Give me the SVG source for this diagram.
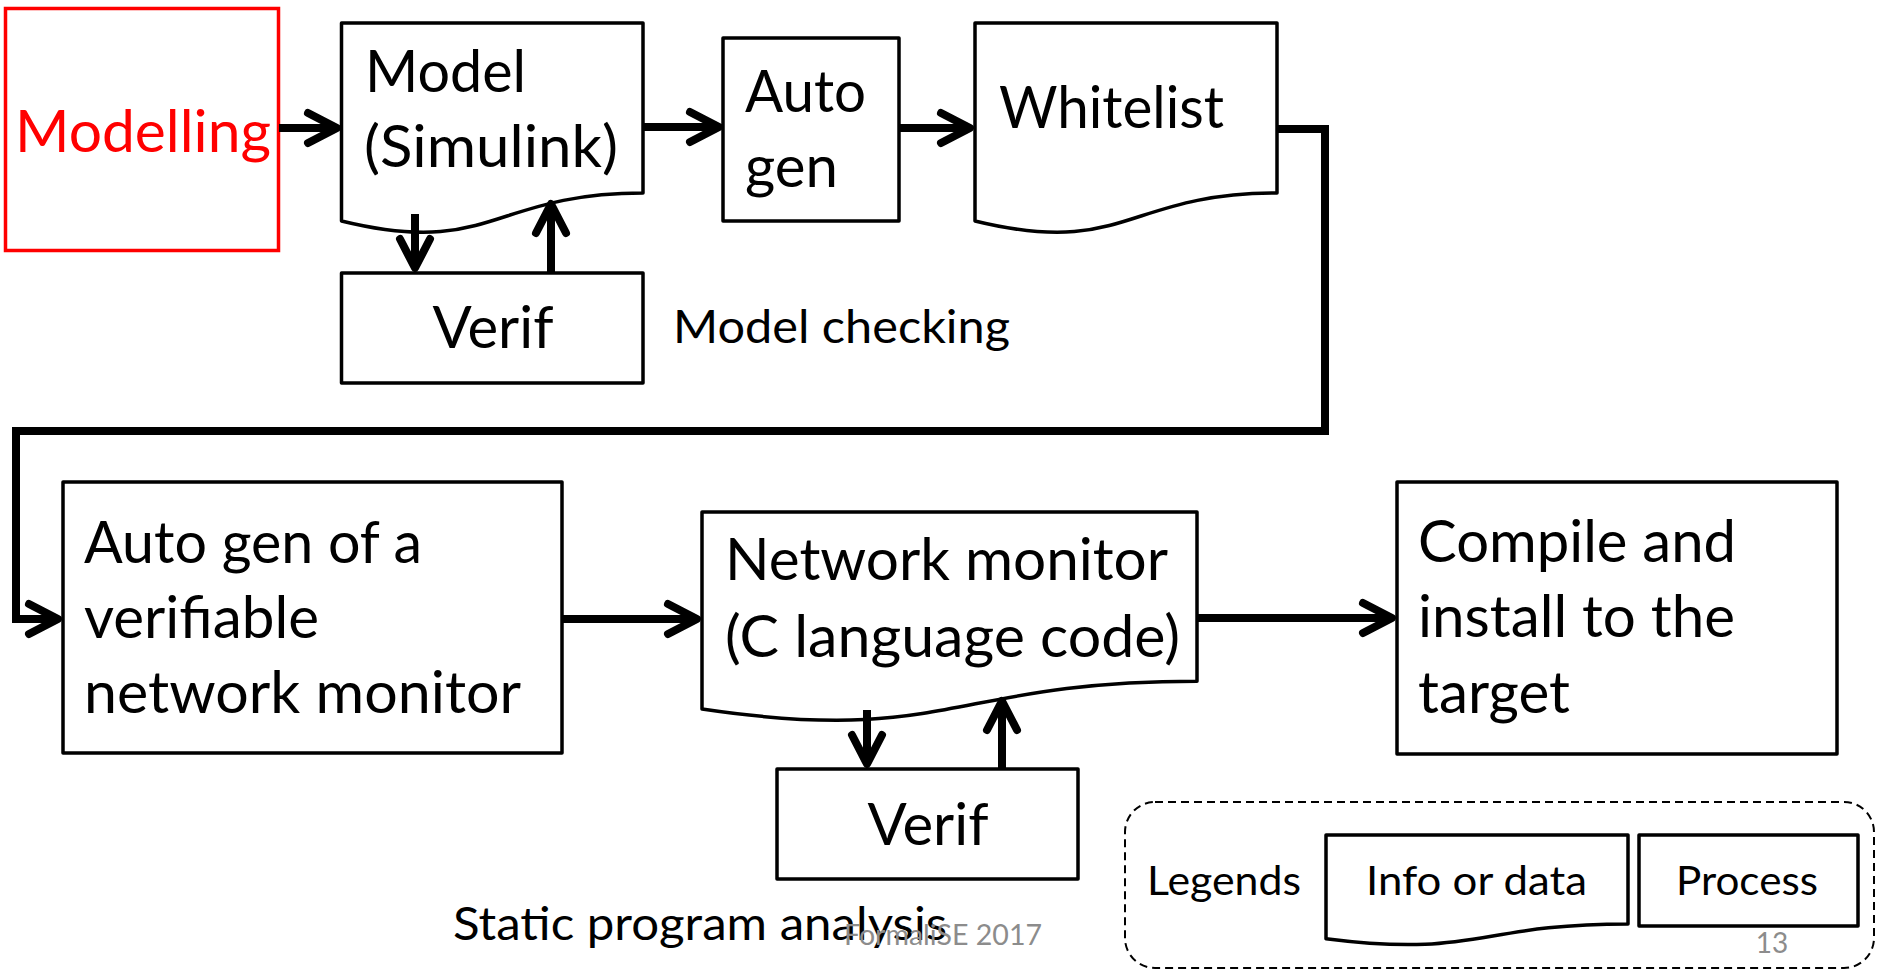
<svg xmlns="http://www.w3.org/2000/svg" width="1879" height="971" viewBox="0 0 1879 971">
<style>
.box{fill:#fff;stroke:#000;stroke-width:3.5;stroke-linejoin:round}
.t{font-family:Lato,"Open Sans","Liberation Sans",sans-serif;font-size:57.5px;fill:#000}
.s{font-family:Lato,"Open Sans","Liberation Sans",sans-serif;font-size:46px;fill:#000}
.l{font-family:Lato,"Open Sans","Liberation Sans",sans-serif;font-size:41px;fill:#000}
.g{font-family:Lato,"Open Sans","Liberation Sans",sans-serif;font-size:28px;fill:#8c8c8c}
.c{fill:none;stroke:#000;stroke-width:8;stroke-linejoin:miter}
</style>
<defs>
<marker id="arr" markerUnits="userSpaceOnUse" viewBox="-40 -25 50 50" markerWidth="50" markerHeight="50" refX="0" refY="0" orient="auto">
<path d="M-29,-15 L0,0 L-29,15" fill="none" stroke="#000" stroke-width="8" stroke-linecap="round" stroke-linejoin="round"/>
</marker>
</defs>
<rect width="1879" height="971" fill="#fff"/>

<g id="modelling">
<rect x="5.5" y="8.5" width="273" height="242" fill="#fff" stroke="#ff0000" stroke-width="3.5"/>
<text class="t" x="143" y="152" text-anchor="middle" style="fill:#ff0000" textLength="256" lengthAdjust="spacingAndGlyphs">Modelling</text>
</g>

<g id="model">
<path class="box" d="M341.5,23 H643 V193 C492,193 492,257.8 341.5,221 Z"/>
<text class="t" x="365" y="92" textLength="161" lengthAdjust="spacingAndGlyphs">Model</text>
<text class="t" x="364" y="167" textLength="254" lengthAdjust="spacingAndGlyphs">(Simulink)</text>
</g>

<g id="autogen">
<rect class="box" x="723" y="38" width="176" height="183"/>
<text class="t" x="745" y="112" textLength="121" lengthAdjust="spacingAndGlyphs">Auto</text>
<text class="t" x="745" y="187" textLength="93" lengthAdjust="spacingAndGlyphs">gen</text>
</g>

<g id="whitelist">
<path class="box" d="M975,23 H1277 V193 C1126,193 1126,257.8 975,221 Z"/>
<text class="t" x="999" y="128" textLength="225" lengthAdjust="spacingAndGlyphs">Whitelist</text>
</g>

<g id="verif1">
<rect class="box" x="341.5" y="273" width="301.5" height="110"/>
<text class="t" x="493" y="348" text-anchor="middle" textLength="121" lengthAdjust="spacingAndGlyphs">Verif</text>
</g>

<g id="label-model-checking">
<text class="s" x="673" y="343" textLength="337" lengthAdjust="spacingAndGlyphs">Model checking</text>
</g>

<g id="autogen-monitor">
<rect class="box" x="63" y="482" width="499" height="271"/>
<text class="t" x="84" y="563" textLength="338" lengthAdjust="spacingAndGlyphs">Auto gen of a</text>
<text class="t" x="84" y="638" textLength="235" lengthAdjust="spacingAndGlyphs">verifiable</text>
<text class="t" x="84" y="713" textLength="437" lengthAdjust="spacingAndGlyphs">network monitor</text>
</g>

<g id="network-monitor">
<path class="box" d="M702,512 H1197 V681.2 C949.5,681.2 949.5,745.7 702,709 Z"/>
<text class="t" x="725" y="580" textLength="443" lengthAdjust="spacingAndGlyphs">Network monitor</text>
<text class="t" x="725" y="657" textLength="455" lengthAdjust="spacingAndGlyphs">(C language code)</text>
</g>

<g id="verif2">
<rect class="box" x="777" y="769" width="301" height="110"/>
<text class="t" x="928" y="845" text-anchor="middle" textLength="121" lengthAdjust="spacingAndGlyphs">Verif</text>
</g>

<g id="label-static">
<text class="s" x="453" y="940" textLength="494" lengthAdjust="spacingAndGlyphs">Static program analysis</text>
</g>

<g id="compile">
<rect class="box" x="1397" y="482" width="440" height="272"/>
<text class="t" x="1418" y="562" textLength="318" lengthAdjust="spacingAndGlyphs">Compile and</text>
<text class="t" x="1418" y="637" textLength="317" lengthAdjust="spacingAndGlyphs">install to the</text>
<text class="t" x="1418" y="713" textLength="152" lengthAdjust="spacingAndGlyphs">target</text>
</g>

<g id="legend">
<rect x="1125" y="802" width="749" height="166" rx="30" ry="30" fill="none" stroke="#000" stroke-width="2" stroke-dasharray="8 5"/>
<text class="l" x="1147" y="895" textLength="154" lengthAdjust="spacingAndGlyphs">Legends</text>
<path class="box" d="M1326,835 H1628 V924 C1477,924 1477,958 1326,938.7 Z"/>
<text class="l" x="1366" y="895" textLength="221" lengthAdjust="spacingAndGlyphs">Info or data</text>
<rect class="box" x="1639" y="835" width="219" height="91"/>
<text class="l" x="1676" y="895" textLength="142" lengthAdjust="spacingAndGlyphs">Process</text>
</g>

<g id="footer">
<text class="g" x="844" y="945" textLength="198" lengthAdjust="spacingAndGlyphs">FormaliSE 2017</text>
<text class="g" x="1772" y="953" text-anchor="middle">13</text>
</g>

<g id="connectors">
<path class="c" d="M279,128 H337" marker-end="url(#arr)"/>
<path class="c" d="M643,127 H719" marker-end="url(#arr)"/>
<path class="c" d="M899,128 H970" marker-end="url(#arr)"/>
<path class="c" d="M1277,129 H1325 V431 H16 V619 H58" marker-end="url(#arr)"/>
<path class="c" d="M562,619 H697" marker-end="url(#arr)"/>
<path class="c" d="M1197,618 H1392" marker-end="url(#arr)"/>
<path class="c" d="M415,214 V268" marker-end="url(#arr)"/>
<path class="c" d="M551,272 V204" marker-end="url(#arr)"/>
<path class="c" d="M867,710 V764" marker-end="url(#arr)"/>
<path class="c" d="M1002,769 V701" marker-end="url(#arr)"/>
</g>
</svg>
